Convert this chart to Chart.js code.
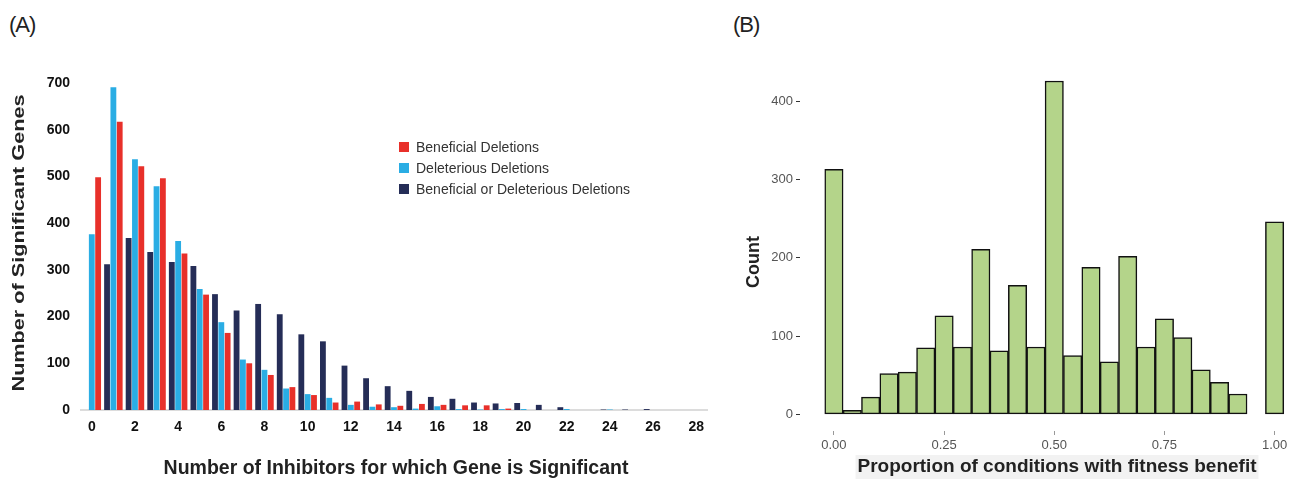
<!DOCTYPE html>
<html>
<head>
<meta charset="utf-8">
<script src="https://cdn.jsdelivr.net/npm/chart.js@4.4.1/dist/chart.umd.min.js"></script>
<style>
  html, body { margin: 0; padding: 0; background: #fff; overflow: hidden; }
  body { width: 1296px; height: 479px; position: relative; font-family: "Liberation Sans", Arial, sans-serif; }
  .panel-tag { position: absolute; top: 12px; font-size: 22px; color: #222; letter-spacing: -1px; }
  #wrapA { position: absolute; left: 0; top: 0; width: 720px; height: 479px; }
  #wrapB { position: absolute; left: 720px; top: 0; width: 585px; height: 479px; }
  #legendA { position: absolute; left: 399px; top: 136px; font-size: 14px; color: #333; }
  .legend-row { height: 21px; display: flex; align-items: center; }
  .legend-box { width: 10px; height: 10px; margin-right: 7px; }
</style>
</head>
<body>
<div class="panel-tag" style="left:9px">(A)</div>
<div class="panel-tag" style="left:733px">(B)</div>
<div id="wrapA"><canvas id="chartA" width="720" height="479"></canvas></div>
<div id="legendA"></div>
<div id="wrapB"><canvas id="chartB" width="585" height="479"></canvas></div>
<script>
// ---- Datos panel A ----
const inhibitorCounts = ['0','1','2','3','4','5','6','7','8','9','10','11','12','13','14',
  '15','16','17','18','19','20','21','22','23','24','25','26','27','28'];
const xTickLabelsA = ['0','2','4','6','8','10','12','14','16','18','20','22','24','26','28'];
const yTicksA = [0, 100, 200, 300, 400, 500, 600, 700];
const beneficialOrDeleterious = [0, 312, 368, 338, 317, 308, 248, 213, 227, 205, 162, 147, 95, 68, 51,
  41, 28, 24, 16, 14, 15, 11, 6, 0, 1, 1, 2, 0, 0];
const deleteriousDel = [376, 691, 537, 479, 362, 259, 188, 108, 86, 46, 34, 26, 11, 7, 6,
  3, 8, 2, 1, 2, 2, 0, 2, 0, 1, 0, 0, 0, 0];
const beneficialDel = [498, 617, 522, 496, 335, 247, 165, 100, 75, 49, 32, 16, 18, 12, 9,
  13, 11, 10, 10, 3, 0, 0, 0, 0, 0, 0, 0, 0, 0];

// ---- Datos panel B ----
const binCenters = [0, 1/24, 2/24, 3/24, 4/24, 5/24, 6/24, 7/24, 8/24, 9/24, 10/24, 11/24, 12/24,
  13/24, 14/24, 15/24, 16/24, 17/24, 18/24, 19/24, 20/24, 21/24, 22/24, 23/24, 1];
const binCounts = [313, 5, 22, 52, 54, 85, 126, 86, 211, 81, 165, 86, 426,
  75, 188, 67, 202, 86, 122, 98, 57, 41, 26, 0, 246];
const xTicksB = [0, 0.25, 0.5, 0.75, 1];
const yTicksB = [0, 100, 200, 300, 400];

// Títulos de ejes dibujados en posiciones fijas (items fuera de las opciones de Chart.js)
function makeAxisText(items) {
  return {
    id: 'axisText',
    afterDraw(chart) {
      const ctx = chart.ctx;
      items.forEach(item => {
        ctx.save();
        ctx.font = item.font;
        ctx.translate(item.x, item.y);
        if (item.rotate) ctx.rotate(item.rotate);
        const w = ctx.measureText(item.text).width;
        ctx.textAlign = 'center';
        ctx.textBaseline = 'middle';
        if (item.bg) {
          ctx.fillStyle = item.bg;
          ctx.fillRect(-w / 2 - 2, -item.bgH / 2, w + 4, item.bgH);
        }
        if (typeof item.stretchTo === 'number') ctx.scale(item.stretchTo / w, 1);
        ctx.fillStyle = item.color;
        ctx.fillText(item.text, 0, 0);
        ctx.restore();
      });
    }
  };
}

Chart.defaults.font.family = '"Liberation Sans", Arial, sans-serif';
Chart.defaults.animation = false;

// Panel A: barras agrupadas
const chartA = new Chart(document.getElementById('chartA'), {
  type: 'bar',
  plugins: [makeAxisText([
    { text: 'Number of Inhibitors for which Gene is Significant', x: 396, y: 469,
      font: 'bold 19.5px "Liberation Sans", Arial, sans-serif', color: '#222' },
    { text: 'Number of Significant Genes', x: 19.5, y: 243, rotate: -Math.PI / 2, stretchTo: 297,
      font: 'bold 17px "Liberation Sans", Arial, sans-serif', color: '#222' }
  ])],
  data: {
    labels: inhibitorCounts,
    datasets: [{
      label: 'Beneficial or Deleterious Deletions',
      data: beneficialOrDeleterious,
      backgroundColor: '#252d57'
    }, {
      label: 'Deleterious Deletions',
      data: deleteriousDel,
      backgroundColor: '#2aade4'
    }, {
      label: 'Beneficial Deletions',
      data: beneficialDel,
      backgroundColor: '#e8302a'
    }]
  },
  options: {
    responsive: false,
    maintainAspectRatio: false,
    layout: { padding: { top: 83, left: 0, right: 13, bottom: 0 } },
    datasets: { bar: { barPercentage: 0.92, categoryPercentage: 0.88 } },
    plugins: {
      legend: { display: false },
      tooltip: { enabled: false }
    },
    scales: {
      x: {
        grid: { display: false, drawTicks: false },
        border: { display: true, color: '#dcdcdc', width: 2 },
        ticks: {
          autoSkip: false, maxRotation: 0, padding: 9, color: '#111',
          font: { size: 14, weight: 'bold' },
          callback: function(val) {
            const lbl = this.getLabelForValue(val);
            return xTickLabelsA.includes(lbl) ? lbl : '';
          }
        },
        afterFit: s => { s.height = 69; }
      },
      y: {
        min: 0, max: 700,
        grid: { display: false, drawTicks: false },
        border: { display: false },
        ticks: { padding: 11, color: '#111', font: { size: 14, weight: 'bold' } },
        afterBuildTicks: s => { s.ticks = yTicksA.map(v => ({ value: v })); },
        afterFit: s => { s.width = 81; }
      }
    }
  }
});

// Leyenda HTML a partir de los datasets (orden invertido)
const legendA = document.getElementById('legendA');
chartA.data.datasets.slice().reverse().forEach(ds => {
  const row = document.createElement('div');
  row.className = 'legend-row';
  row.innerHTML = '<span class="legend-box" style="background:' + ds.backgroundColor + '"></span>' + ds.label;
  legendA.appendChild(row);
});

// Panel B: histograma
new Chart(document.getElementById('chartB'), {
  type: 'bar',
  plugins: [makeAxisText([
    { text: 'Proportion of conditions with fitness benefit', x: 337, y: 467,
      font: 'bold 19px "Liberation Sans", Arial, sans-serif', color: '#222',
      bg: '#f2f2f2', bgH: 24 },
    { text: 'Count', x: 34, y: 262, rotate: -Math.PI / 2,
      font: 'bold 18px "Liberation Sans", Arial, sans-serif', color: '#222' }
  ])],
  data: {
    datasets: [{
      label: 'Count',
      data: binCenters.map((c, i) => ({ x: c, y: binCounts[i] })),
      backgroundColor: '#b4d48a',
      borderColor: '#111',
      borderWidth: 1.5,
      borderSkipped: false,
      barPercentage: 1,
      categoryPercentage: 1
    }]
  },
  options: {
    responsive: false,
    maintainAspectRatio: false,
    layout: { padding: { top: 64, left: 0, right: 0, bottom: 0 } },
    plugins: {
      legend: { display: false },
      tooltip: { enabled: false }
    },
    scales: {
      x: {
        type: 'linear',
        offset: false,
        min: -0.077, max: 1.069,
        grid: { display: true, offset: false, drawOnChartArea: false, drawTicks: true, tickLength: 4, color: '#999' },
        border: { display: false },
        ticks: { padding: 3, color: '#555', font: { size: 13 }, callback: v => v.toFixed(2) },
        afterBuildTicks: s => { s.ticks = xTicksB.map(v => ({ value: v })); },
        afterFit: s => { s.height = 48; }
      },
      y: {
        min: -21.3, max: 447.7,
        grid: { display: true, drawOnChartArea: false, drawTicks: true, tickLength: 4, color: '#333' },
        border: { display: false },
        ticks: { padding: 3, color: '#555', font: { size: 13 } },
        afterBuildTicks: s => { s.ticks = yTicksB.map(v => ({ value: v })); },
        afterFit: s => { s.width = 80; }
      }
    }
  }
});
</script>
</body>
</html>
